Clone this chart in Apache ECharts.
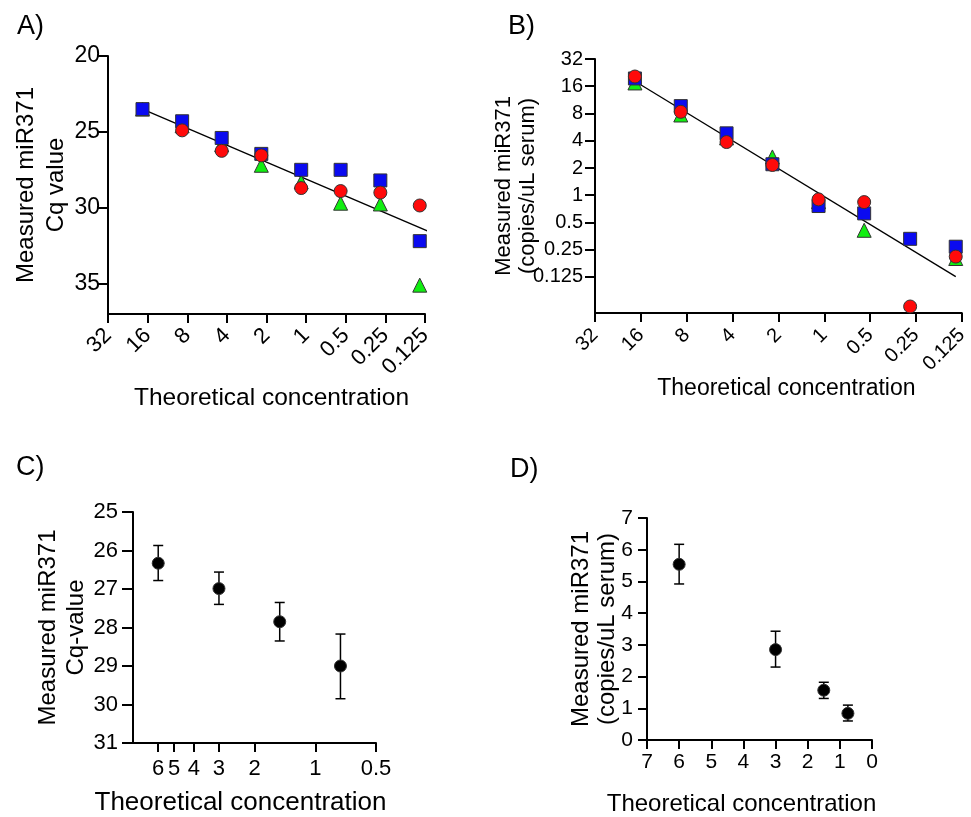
<!DOCTYPE html>
<html>
<head>
<meta charset="utf-8">
<script src="https://cdn.jsdelivr.net/npm/echarts@6/dist/echarts.min.js"></script>
<style>
html,body{margin:0;padding:0;background:#fff;}
#chart{width:971px;height:817px;}
</style>
</head>
<body>
<div id="chart"></div>
<script>
// ---------- data ----------
const concAB = [17.5, 8.75, 4.38, 2.19, 1.09, 0.547, 0.273, 0.137];
const ticksAB = [32, 16, 8, 4, 2, 1, 0.5, 0.25, 0.125];

// Panel A: Cq values
const cqBlue  = [23.5, 24.3, 25.4, 26.45, 27.5, 27.5, 28.2, 32.2];
const cqRed   = [null, 24.9, 26.25, 26.55, 28.7, 28.9, 29.0, 29.85];
const cqGreen = [23.5, 24.6, 25.85, 27.2, 28.3, 29.7, 29.75, 35.1];
const cqFitX = [17.5, 0.1126];
const cqFitY = [23.5, 31.63];
const cqTicks = [20, 25, 30, 35];

// Panel B: copies/uL serum
const cpBlue  = [19.5, 9.65, 4.83, 2.2, 0.76, 0.63, 0.33, 0.27];
const cpRed   = [20.5, 8.35, 3.87, 2.16, 0.90, 0.84, 0.059, 0.21];
const cpGreen = [17.4, 7.7, 4.3, 2.65, 0.85, 0.41, null, 0.2];
const cpFitX = [17.5, 0.137];
const cpFitY = [18.2, 0.126];
const cpTicks = [32, 16, 8, 4, 2, 1, 0.5, 0.25, 0.125];

// Panel C
const concCD = [6, 3, 1.5, 0.75];
const ticksC = [6, 5, 4, 3, 2, 1, 0.5];
const cqMean = [26.33, 26.99, 27.85, 29.0];
const cqLow  = [25.87, 26.56, 27.35, 28.17];
const cqHigh = [26.78, 27.40, 28.35, 29.85];

// Panel D
const cpMean = [5.54, 2.85, 1.57, 0.84];
const cpLow  = [4.92, 2.30, 1.31, 0.60];
const cpHigh = [6.17, 3.43, 1.82, 1.10];

// ---------- helpers ----------
const FONT = 'Liberation Sans, Arial, Helvetica, sans-serif';
const zip = (xs, ys) => xs.map((x, i) => [x, ys[i]]);
const zipErr = (xs, lo, hi) => xs.map((x, i) => [x, lo[i], hi[i]]);
const fmt = v => String(+(+v).toPrecision(6));

const mkLine = () => ({show: true, onZero: false, lineStyle: {color: '#000', width: 2}});
const mkTick = (len, vals) => {
  const t = {show: true, inside: false, length: len, lineStyle: {color: '#000', width: 2}};
  if (vals) t.customValues = vals.slice();
  return t;
};

function scatter(name, xi, yi, data, symbol, size, color) {
  return {
    type: 'scatter', name, xAxisIndex: xi, yAxisIndex: yi,
    data, symbol, symbolSize: size,
    itemStyle: {color, borderColor: '#333', borderWidth: 1, opacity: 1},
    emphasis: {disabled: true}, silent: true, z: 3
  };
}
function fitLine(xi, yi, data) {
  return {
    type: 'line', xAxisIndex: xi, yAxisIndex: yi, data,
    symbol: 'none', clip: false, silent: true,
    lineStyle: {color: '#000', width: 1.3}, z: 2
  };
}
function errRender(params, api) {
  const x = api.value(0), lo = api.value(1), hi = api.value(2);
  const p1 = api.coord([x, lo]), p2 = api.coord([x, hi]);
  const w = 5;
  const st = {stroke: '#000', lineWidth: 1.5};
  return {type: 'group', children: [
    {type: 'line', shape: {x1: p1[0], y1: p1[1], x2: p2[0], y2: p2[1]}, style: st},
    {type: 'line', shape: {x1: p1[0] - w, y1: p1[1], x2: p1[0] + w, y2: p1[1]}, style: st},
    {type: 'line', shape: {x1: p2[0] - w, y1: p2[1], x2: p2[0] + w, y2: p2[1]}, style: st}
  ]};
}
function errSeries(xi, yi, data) {
  return {type: 'custom', xAxisIndex: xi, yAxisIndex: yi, data, renderItem: errRender,
    encode: {x: 0, y: [1, 2]}, silent: true, z: 2};
}

const chart = echarts.init(document.getElementById('chart'), null, {renderer: 'canvas'});
const titleStyle = () => ({fontFamily: FONT, fontSize: 27, fontWeight: 'normal', color: '#000'});

const option = {
  animation: false,
  backgroundColor: '#fff',
  textStyle: {fontFamily: FONT, color: '#000'},
  title: [
    {text: 'A)', left: 12, top: 8, textStyle: titleStyle()},
    {text: 'B)', left: 503, top: 8, textStyle: titleStyle()},
    {text: 'C)', left: 11, top: 449, textStyle: titleStyle()},
    {text: 'D)', left: 505, top: 451, textStyle: titleStyle()}
  ],
  grid: [
    {left: 108, top: 56, width: 317, height: 258},
    {left: 595, top: 59, width: 367, height: 254},
    {left: 133, top: 512, width: 243, height: 233},
    {left: 647, top: 518, width: 225, height: 225}
  ],
  xAxis: [
    {
      type: 'log', logBase: 2, gridIndex: 0, min: 0.125, max: 32, inverse: true, position: 'bottom',
      axisLine: mkLine(), axisTick: mkTick(9, ticksAB), splitLine: {show: false}, minorTick: {show: false},
      axisLabel: {rotate: 45, margin: 18, fontSize: 22, color: '#000', fontFamily: FONT, formatter: fmt, customValues: ticksAB.slice()},
      name: 'Theoretical concentration', nameLocation: 'middle', nameGap: 72,
      nameTextStyle: {fontSize: 24.5, color: '#000', fontFamily: FONT, padding: [0, 0, 0, 10]}
    },
    {
      type: 'log', logBase: 2, gridIndex: 1, min: 0.125, max: 32, inverse: true, position: 'bottom',
      axisLine: mkLine(), axisTick: mkTick(9, ticksAB), splitLine: {show: false}, minorTick: {show: false},
      axisLabel: {rotate: 45, margin: 19, fontSize: 20, color: '#000', fontFamily: FONT, formatter: fmt, customValues: ticksAB.slice()},
      name: 'Theoretical concentration', nameLocation: 'middle', nameGap: 61,
      nameTextStyle: {fontSize: 23, color: '#000', fontFamily: FONT, padding: [0, 0, 0, 16]}
    },
    {
      type: 'log', logBase: 2, gridIndex: 2, min: 0.5, max: 8, inverse: true, position: 'bottom',
      axisLine: mkLine(), axisTick: mkTick(9, ticksC), splitLine: {show: false}, minorTick: {show: false},
      axisLabel: {margin: 15, fontSize: 22, color: '#000', fontFamily: FONT, formatter: fmt, customValues: ticksC.slice()},
      name: 'Theoretical concentration', nameLocation: 'middle', nameGap: 47,
      nameTextStyle: {fontSize: 26, color: '#000', fontFamily: FONT, padding: [0, 28, 0, 0]}
    },
    {
      type: 'value', gridIndex: 3, min: 0, max: 7, interval: 1, inverse: true, position: 'bottom',
      axisLine: mkLine(), axisTick: mkTick(9), splitLine: {show: false},
      axisLabel: {margin: 12, fontSize: 21, color: '#000', fontFamily: FONT},
      name: 'Theoretical concentration', nameLocation: 'middle', nameGap: 52,
      nameTextStyle: {fontSize: 24, color: '#000', fontFamily: FONT, padding: [0, 36, 0, 0]}
    }
  ],
  yAxis: [
    {
      type: 'value', gridIndex: 0, min: 20, max: 37, inverse: true, position: 'left',
      axisLine: mkLine(), axisTick: mkTick(10, cqTicks), splitLine: {show: false},
      axisLabel: {margin: 8, fontSize: 23, color: '#000', fontFamily: FONT, customValues: cqTicks.slice()},
      name: 'Measured miR371\nCq value', nameLocation: 'middle', nameGap: 37, nameRotate: 90, nameMoveOverlap: false,
      nameTextStyle: {fontSize: 24, lineHeight: 30, color: '#000', fontFamily: FONT}
    },
    {
      type: 'log', logBase: 2, gridIndex: 1, min: 0.05, max: 32, position: 'left',
      axisLine: mkLine(), axisTick: mkTick(10, cpTicks), splitLine: {show: false}, minorTick: {show: false},
      axisLabel: {margin: 12, fontSize: 20, color: '#000', fontFamily: FONT, formatter: fmt, customValues: cpTicks.slice()},
      name: 'Measured miR371\n(copies/uL serum)', nameLocation: 'middle', nameGap: 55, nameRotate: 90, nameMoveOverlap: false,
      nameTextStyle: {fontSize: 22, lineHeight: 24, color: '#000', fontFamily: FONT}
    },
    {
      type: 'value', gridIndex: 2, min: 25, max: 31, interval: 1, inverse: true, position: 'left',
      axisLine: mkLine(), axisTick: mkTick(11), splitLine: {show: false},
      axisLabel: {margin: 15, fontSize: 22, color: '#000', fontFamily: FONT},
      name: 'Measured miR371\nCq-value', nameLocation: 'middle', nameGap: 43, nameRotate: 90, nameMoveOverlap: false,
      nameTextStyle: {fontSize: 24, lineHeight: 28, color: '#000', fontFamily: FONT}
    },
    {
      type: 'value', gridIndex: 3, min: 0, max: 7, interval: 1, position: 'left',
      axisLine: mkLine(), axisTick: mkTick(9), splitLine: {show: false},
      axisLabel: {margin: 14, fontSize: 21, color: '#000', fontFamily: FONT},
      name: 'Measured miR371\n(copies/uL serum)', nameLocation: 'middle', nameGap: 27, nameRotate: 90, nameMoveOverlap: false,
      nameTextStyle: {fontSize: 24, lineHeight: 26, color: '#000', fontFamily: FONT}
    }
  ],
  series: [
    fitLine(0, 0, zip(cqFitX, cqFitY)),
    scatter('green', 0, 0, zip(concAB, cqGreen), 'triangle', 14, '#11ee11'),
    scatter('blue', 0, 0, zip(concAB, cqBlue), 'rect', 13, '#0a0af0'),
    scatter('red', 0, 0, zip(concAB, cqRed), 'circle', 13, '#ff0a0a'),

    fitLine(1, 1, zip(cpFitX, cpFitY)),
    scatter('green', 1, 1, zip(concAB, cpGreen), 'triangle', 14, '#11ee11'),
    scatter('blue', 1, 1, zip(concAB, cpBlue), 'rect', 13, '#0a0af0'),
    scatter('red', 1, 1, zip(concAB, cpRed), 'circle', 13, '#ff0a0a'),

    errSeries(2, 2, zipErr(concCD, cqLow, cqHigh)),
    scatter('mean', 2, 2, zip(concCD, cqMean), 'circle', 12, '#000'),

    errSeries(3, 3, zipErr(concCD, cpLow, cpHigh)),
    scatter('mean', 3, 3, zip(concCD, cpMean), 'circle', 12, '#000')
  ]
};
chart.setOption(option);
</script>
</body>
</html>
